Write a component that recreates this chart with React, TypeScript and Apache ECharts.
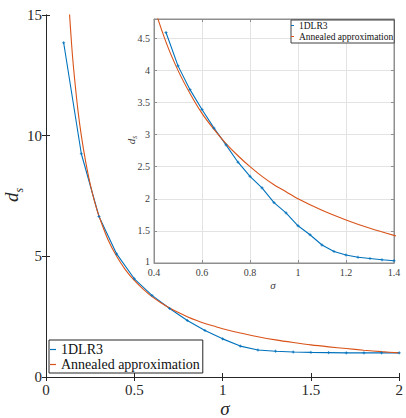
import React, { useEffect, useRef } from "react";
import * as echarts from "echarts";

const FONT = "Liberation Serif";
const BLUE = "#0072BD";
const ORANGE = "#D95319";
const DARK = "#262626";
const INSET_AXIS = "#8f8f8f";
const INSET_TEXT = "#404040";

// 1DLR3 (main panel)
const mainSigma = [0.1, 0.2, 0.3, 0.4, 0.5, 0.6, 0.7, 0.8, 0.9, 1.0, 1.1, 1.2, 1.3, 1.4, 1.5, 1.6, 1.7, 1.8, 1.9, 2.0];
const mainBlue = [13.85, 9.25, 6.65, 5.1, 4.07, 3.38, 2.84, 2.34, 1.93, 1.58, 1.28, 1.12, 1.07, 1.035, 1.02, 1.01, 1.0, 1.0, 1.0, 1.0];

// 1DLR3 (inset)
const insetSigma = [0.45, 0.5, 0.55, 0.6, 0.65, 0.7, 0.75, 0.8, 0.85, 0.9, 0.95, 1.0, 1.05, 1.1, 1.15, 1.2, 1.25, 1.3, 1.35, 1.4];
const insetBlue = [4.59, 4.07, 3.7, 3.39, 3.1, 2.84, 2.57, 2.35, 2.17, 1.94, 1.78, 1.58, 1.44, 1.28, 1.18, 1.125, 1.09, 1.07, 1.05, 1.035];

// Annealed approximation
const annealSigma = [0.13, 0.14, 0.15, 0.16, 0.18, 0.2, 0.225, 0.25, 0.275, 0.3, 0.35, 0.4, 0.45, 0.5, 0.55, 0.6, 0.65, 0.7, 0.75, 0.8, 0.85, 0.9, 0.95, 1.0, 1.1, 1.2, 1.3, 1.4, 1.5, 1.6, 1.7, 1.8, 1.9, 2.0];
const annealValues = [15.4, 14.3, 13.3, 12.5, 11.1, 10.0, 8.9, 8.0, 7.27, 6.67, 5.71, 5.0, 4.44, 4.0, 3.64, 3.33, 3.08, 2.86, 2.67, 2.5, 2.35, 2.22, 2.11, 2.0, 1.82, 1.67, 1.54, 1.43, 1.33, 1.25, 1.18, 1.11, 1.05, 1.0];

const SERIES_NAMES = ["1DLR3", "Annealed approximation"];

const zip = (xs: number[], ys: number[]) => xs.map((x, i) => [x, ys[i]]);

const PLUS = "path://M0,5L10,5M5,0L5,10";

export default function App() {
  const ref = useRef<HTMLDivElement>(null);
  useEffect(() => {
    if (!ref.current) return;
    const chart = echarts.init(ref.current, undefined, { renderer: "svg" });

    const mainAxisLine = { lineStyle: { color: DARK, width: 1 } };
    const insetAxisLine = { lineStyle: { color: INSET_AXIS, width: 1 } };

    const option: any = {
      animation: false,
      backgroundColor: "#fff",
      textStyle: { fontFamily: FONT },
      grid: [
        { left: 46, top: 15, right: 3, bottom: 41, show: false },
        { left: 154, top: 19, right: 12, bottom: 155, show: true, backgroundColor: "#fff", borderColor: INSET_AXIS, borderWidth: 1, z: 3 },
      ],
      xAxis: [
        {
          gridIndex: 0, type: "value", min: 0, max: 2, interval: 0.5, position: "bottom",
          axisLine: mainAxisLine,
          axisTick: { inside: true, length: 4, lineStyle: { color: DARK } },
          axisLabel: { fontFamily: FONT, fontSize: 15, color: DARK, margin: 5 },
          splitLine: { show: false },
        },
        {
          gridIndex: 0, type: "value", min: 0, max: 2, interval: 0.5, position: "top",
          axisLine: mainAxisLine,
          axisTick: { inside: true, length: 4, lineStyle: { color: DARK } },
          axisLabel: { show: false },
          splitLine: { show: false },
        },
        {
          gridIndex: 1, type: "value", min: 0.4, max: 1.4, interval: 0.2, position: "bottom", z: 4,
          axisLine: insetAxisLine,
          axisTick: { inside: true, length: 3, lineStyle: { color: INSET_AXIS } },
          axisLabel: { fontFamily: FONT, fontSize: 10, lineHeight: 9, color: INSET_TEXT, margin: 4.5 },
          splitLine: { show: true, lineStyle: { color: "#e3e3e3", width: 1 } },
        },
        {
          gridIndex: 1, type: "value", min: 0.4, max: 1.4, interval: 0.2, position: "top", z: 4,
          axisLine: insetAxisLine,
          axisTick: { inside: true, length: 3, lineStyle: { color: INSET_AXIS } },
          axisLabel: { show: false },
          splitLine: { show: false },
        },
      ],
      yAxis: [
        {
          gridIndex: 0, type: "value", min: 0, max: 15, interval: 5, position: "left",
          axisLine: { show: true, ...mainAxisLine },
          axisTick: { show: true, inside: true, length: 4, lineStyle: { color: DARK } },
          axisLabel: { fontFamily: FONT, fontSize: 15, color: DARK, margin: 4 },
          splitLine: { show: false },
        },
        {
          gridIndex: 0, type: "value", min: 0, max: 15, interval: 5, position: "right",
          axisLine: { show: true, ...mainAxisLine },
          axisTick: { show: true, inside: true, length: 4, lineStyle: { color: DARK } },
          axisLabel: { show: false },
          splitLine: { show: false },
        },
        {
          gridIndex: 1, type: "value", min: 1, max: 4.8, interval: 0.5, position: "left", z: 4,
          axisLine: { show: true, ...insetAxisLine },
          axisTick: { show: true, inside: true, length: 3, lineStyle: { color: INSET_AXIS } },
          axisLabel: {
            fontFamily: FONT, fontSize: 10, lineHeight: 9, color: INSET_TEXT, margin: 4, showMaxLabel: false,
            formatter: (v: number) => (v === 1 ? "{low|1}" : String(v)),
            rich: { low: { fontFamily: FONT, fontSize: 10, lineHeight: 9, color: INSET_TEXT, padding: [0, 0, 4, 0] } },
          },
          splitLine: { show: true, lineStyle: { color: "#e3e3e3", width: 1 } },
        },
        {
          gridIndex: 1, type: "value", min: 1, max: 4.8, interval: 0.5, position: "right", z: 4,
          axisLine: { show: true, ...insetAxisLine },
          axisTick: { show: true, inside: true, length: 3, lineStyle: { color: INSET_AXIS } },
          axisLabel: { show: false },
          splitLine: { show: false },
        },
      ],
      legend: [
        {
          orient: "vertical", left: 49, top: 340, padding: [2, 3, 1, 1], itemGap: 0,
          itemWidth: 6, itemHeight: 1.2, icon: "rect", selectedMode: false,
          itemStyle: { borderWidth: 0 },
          backgroundColor: "#fff", borderColor: DARK, borderWidth: 1, z: 10,
          textStyle: { fontFamily: FONT, fontSize: 14, lineHeight: 15, color: "#111" },
          data: SERIES_NAMES,
        },
        {
          orient: "vertical", left: 291, top: 20, padding: [0, 1, 1, 0], itemGap: 0,
          itemWidth: 3, itemHeight: 1, icon: "rect", selectedMode: false,
          itemStyle: { borderWidth: 0 },
          backgroundColor: "#fff", borderColor: INSET_TEXT, borderWidth: 1, z: 10,
          textStyle: { fontFamily: FONT, fontSize: 9.5, lineHeight: 11, color: "#111" },
          data: SERIES_NAMES,
        },
      ],
      series: [
        {
          name: SERIES_NAMES[0], type: "line", xAxisIndex: 0, yAxisIndex: 0,
          data: zip(mainSigma, mainBlue),
          symbol: PLUS, symbolSize: 3,
          itemStyle: { color: BLUE, borderColor: BLUE, borderWidth: 0.8 },
          lineStyle: { color: BLUE, width: 1.1 },
          z: 2,
        },
        {
          name: SERIES_NAMES[1], type: "line", xAxisIndex: 0, yAxisIndex: 0,
          data: zip(annealSigma, annealValues),
          symbol: "none", smooth: 0.3,
          itemStyle: { color: ORANGE },
          lineStyle: { color: ORANGE, width: 1.1 },
          z: 2,
        },
        {
          name: SERIES_NAMES[0], type: "line", xAxisIndex: 2, yAxisIndex: 2,
          data: zip(insetSigma, insetBlue),
          symbol: PLUS, symbolSize: 3,
          itemStyle: { color: BLUE, borderColor: BLUE, borderWidth: 0.8 },
          lineStyle: { color: BLUE, width: 1.1 },
          z: 5,
        },
        {
          name: SERIES_NAMES[1], type: "line", xAxisIndex: 2, yAxisIndex: 2,
          data: zip(annealSigma, annealValues),
          symbol: "none", smooth: 0.3,
          itemStyle: { color: ORANGE },
          lineStyle: { color: ORANGE, width: 1.1 },
          z: 5,
        },
      ],
      graphic: [
        {
          type: "text", x: 225, y: 408, z: 20,
          style: { text: "σ", fontFamily: FONT, fontSize: 19, fontStyle: "italic", fill: DARK, align: "center", verticalAlign: "middle" },
        },
        {
          type: "text", x: 15, y: 195, rotation: Math.PI / 2, z: 20,
          style: {
            text: "{d|d}{s|s}", fill: DARK, align: "center", verticalAlign: "middle",
            rich: {
              d: { fontFamily: FONT, fontSize: 19, fontStyle: "italic", lineHeight: 19, padding: [0, 0, 4, 0], verticalAlign: "bottom", fill: DARK },
              s: { fontFamily: FONT, fontSize: 12, fontStyle: "italic", lineHeight: 12, verticalAlign: "bottom", fill: DARK },
            },
          },
        },
        {
          type: "text", x: 273, y: 285, z: 20,
          style: { text: "σ", fontFamily: FONT, fontSize: 11, fontStyle: "italic", fill: INSET_TEXT, align: "center", verticalAlign: "middle" },
        },
        {
          type: "text", x: 133, y: 140, rotation: Math.PI / 2, z: 20,
          style: {
            text: "{d|d}{s|s}", fill: INSET_TEXT, align: "center", verticalAlign: "middle",
            rich: {
              d: { fontFamily: FONT, fontSize: 11, fontStyle: "italic", lineHeight: 11, padding: [0, 0, 2, 0], verticalAlign: "bottom", fill: INSET_TEXT },
              s: { fontFamily: FONT, fontSize: 7.5, fontStyle: "italic", lineHeight: 7.5, verticalAlign: "bottom", fill: INSET_TEXT },
            },
          },
        },
      ],
    };

    chart.setOption(option);
    return () => chart.dispose();
  }, []);

  return (
    <div
      ref={ref}
      style={{ position: "fixed", left: 0, top: 0, width: 406, height: 418, background: "#fff" }}
    />
  );
}
